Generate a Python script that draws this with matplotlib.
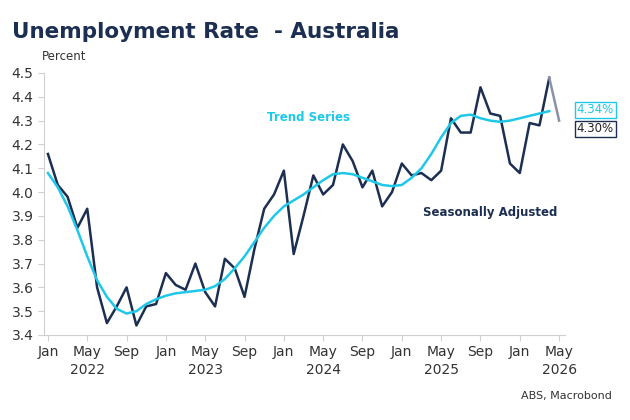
import matplotlib
matplotlib.use("Agg")
import matplotlib.pyplot as plt
import numpy as np

# monthly, Jan 2022 .. May 2026
sa = [4.16, 4.03, 3.98, 3.85, 3.93, 3.60, 3.45, 3.52, 3.60, 3.44, 3.52, 3.53,
      3.66, 3.61, 3.59, 3.70, 3.58, 3.52, 3.72, 3.68, 3.56, 3.76, 3.93, 3.99,
      4.09, 3.74, 3.90, 4.07, 3.99, 4.03, 4.20, 4.13, 4.02, 4.09, 3.94, 4.00,
      4.12, 4.07, 4.08, 4.05, 4.09, 4.31, 4.25, 4.25, 4.44, 4.33, 4.32, 4.12,
      4.08, 4.29, 4.28, 4.48, 4.30]
trend = [4.08, 4.02, 3.94, 3.84, 3.73, 3.63, 3.56, 3.51, 3.49, 3.50, 3.53, 3.55,
         3.565, 3.575, 3.58, 3.585, 3.59, 3.605, 3.635, 3.68, 3.73, 3.79, 3.85, 3.90,
         3.94, 3.965, 3.99, 4.02, 4.05, 4.075, 4.08, 4.075, 4.06, 4.045, 4.03, 4.025,
         4.03, 4.06, 4.10, 4.16, 4.23, 4.29, 4.32, 4.325, 4.31, 4.30, 4.295, 4.30,
         4.31, 4.32, 4.33, 4.34]
month_names = ['Jan', 'May', 'Sep']
years = ['2022', '2023', '2024', '2025', '2026']

navy = '#1c2f52'
cyan = '#1fc8e8'

fig = plt.figure(figsize=(6.3, 4.2), dpi=100)
ax = fig.add_axes([44/630, 1-335/420, 521/630, 262/420])

x_sa = np.arange(len(sa))
x_tr = np.arange(len(trend))
ax.plot(x_sa[:-1], sa[:-1], color=navy, lw=1.8)
ax.plot(x_sa[-2:], sa[-2:], color='#8a93a6', lw=1.8)
ax.plot(x_tr, trend, color=cyan, lw=1.8)

ax.set_ylim(3.4, 4.5)
ax.set_yticks(np.arange(3.4, 4.51, 0.1))
ax.set_yticklabels([f'{v:.1f}' for v in np.arange(3.4, 4.51, 0.1)])
ax.set_xlim(-0.4, 52.6)
ticks = list(range(0, 53, 4))
ax.set_xticks(ticks)
ax.set_xticklabels([month_names[(t // 4) % 3] for t in ticks])
for i, y in enumerate(years):
    ax.text(4 + 12 * i, -0.105, y, transform=ax.get_xaxis_transform(),
            ha='center', va='top', fontsize=10, color='#333333')

for s in ['top', 'right']:
    ax.spines[s].set_visible(False)
ax.spines['left'].set_color('#d0d0d0')
ax.spines['bottom'].set_color('#d0d0d0')
ax.tick_params(colors='#d0d0d0', labelcolor='#333333', labelsize=10, length=4)

ax.text(26.5, 4.30, 'Trend Series', color=cyan, fontsize=8.5, fontweight='bold', ha='center')
ax.text(45, 3.90, 'Seasonally Adjusted', color=navy, fontsize=8.5, fontweight='bold', ha='center')

ax.annotate(f'{trend[-1]:.2f}%', xy=(52.2, trend[-1]), xytext=(53.8, 4.345),
            annotation_clip=False, fontsize=8.5, color=cyan, va='center',
            bbox=dict(boxstyle='square,pad=0.15', fc='white', ec=cyan, lw=1))
ax.annotate(f'{sa[-1]:.2f}%', xy=(52.2, sa[-1]), xytext=(53.8, 4.265),
            annotation_clip=False, fontsize=8.5, color='#222222', va='center',
            bbox=dict(boxstyle='square,pad=0.15', fc='white', ec=navy, lw=1))

fig.text(12/630, 1-32/420, 'Unemployment Rate  - Australia', fontsize=15.5,
         fontweight='bold', color=navy, va='center')
fig.text(42/630, 1-56/420, 'Percent', fontsize=8.5, color='#333333', va='center')
fig.text(612/630, 1-396/420, 'ABS, Macrobond', fontsize=8, color='#333333',
         ha='right', va='center')

fig.savefig('out.png', dpi=100)
